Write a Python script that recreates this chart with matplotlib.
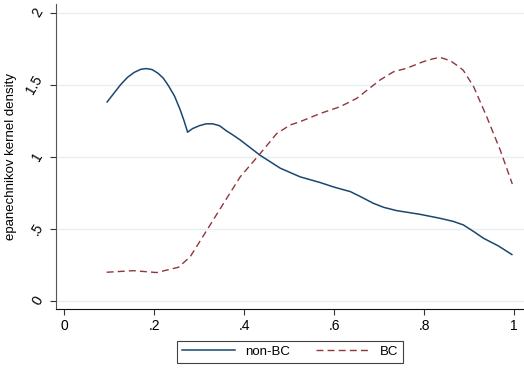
import matplotlib
matplotlib.use('Agg')
import matplotlib.pyplot as plt

# kernel density estimates
nonbc_x = [0.095, 0.11, 0.125, 0.14, 0.155, 0.17, 0.182, 0.195, 0.208, 0.22,
           0.232, 0.245, 0.257, 0.266, 0.274, 0.285, 0.3, 0.315, 0.33, 0.345,
           0.36, 0.375, 0.391, 0.435, 0.48, 0.524, 0.569, 0.598, 0.636,
           0.66, 0.687, 0.71, 0.739, 0.79, 0.835, 0.865, 0.887, 0.91, 0.932,
           0.965, 0.995]
nonbc_y = [1.38, 1.44, 1.50, 1.55, 1.585, 1.607, 1.612, 1.605, 1.58, 1.545,
           1.49, 1.42, 1.33, 1.25, 1.17, 1.195, 1.215, 1.228, 1.228, 1.215,
           1.18, 1.15, 1.116, 1.01, 0.92, 0.86, 0.82, 0.79, 0.757,
           0.72, 0.676, 0.648, 0.625, 0.60, 0.572, 0.55, 0.526, 0.48, 0.433,
           0.38, 0.32]

bc_x = [0.094, 0.153, 0.205, 0.254, 0.28, 0.317, 0.354, 0.391, 0.435, 0.472,
        0.502, 0.524, 0.569, 0.613, 0.65, 0.702, 0.732, 0.761, 0.798, 0.82,
        0.835, 0.858, 0.875, 0.887, 0.91, 0.939, 0.969, 0.996]
bc_y = [0.197, 0.208, 0.195, 0.232, 0.306, 0.49, 0.676, 0.86, 1.02, 1.16,
        1.22, 1.243, 1.30, 1.347, 1.405, 1.533, 1.59, 1.614, 1.66, 1.68,
        1.69, 1.667, 1.63, 1.60, 1.486, 1.278, 1.047, 0.81]

xticks = [0, 0.2, 0.4, 0.6, 0.8, 1]
xticklabels = ['0', '.2', '.4', '.6', '.8', '1']
yticks = [0, 0.5, 1, 1.5, 2]
yticklabels = ['0', '.5', '1', '1.5', '2']

plt.rcParams['font.family'] = ['Liberation Sans', 'DejaVu Sans']

fig = plt.figure(figsize=(5.24, 3.71), dpi=100)
ax = fig.add_axes([0.107, 0.168, 0.893, 0.821])

ax.plot(nonbc_x, nonbc_y, color='#1a476f', lw=1.1, label='non-BC')
ax.plot(bc_x, bc_y, color='#90353b', lw=1.0, dashes=(5, 3), label='BC')

ax.set_xlim(-0.0185, 1.022)
ax.set_ylim(-0.056, 2.06)
ax.set_xticks(xticks)
ax.set_xticklabels(xticklabels)
ax.set_yticks(yticks)
ax.set_yticklabels(yticklabels, rotation=60, va='center', ha='right')
ax.tick_params(labelsize=10, length=4, width=0.8, color='#333333')
ax.set_ylabel('epanechnikov kernel density', fontsize=9.5, labelpad=5)

ax.grid(axis='y', color='#e8eff2', lw=1.0)
ax.set_axisbelow(True)
for s in ['top', 'right']:
    ax.spines[s].set_visible(False)
ax.spines['left'].set_color('#555555')
ax.spines['bottom'].set_color('#111111')

leg = ax.legend(loc='upper center', bbox_to_anchor=(0.5, -0.085), ncol=2,
                fontsize=9.5, frameon=True, fancybox=False, handlelength=4.0,
                columnspacing=2.0, borderpad=0.35)
leg.get_frame().set_edgecolor('#111111')
leg.get_frame().set_linewidth(0.8)

fig.savefig('out.png', dpi=100)
